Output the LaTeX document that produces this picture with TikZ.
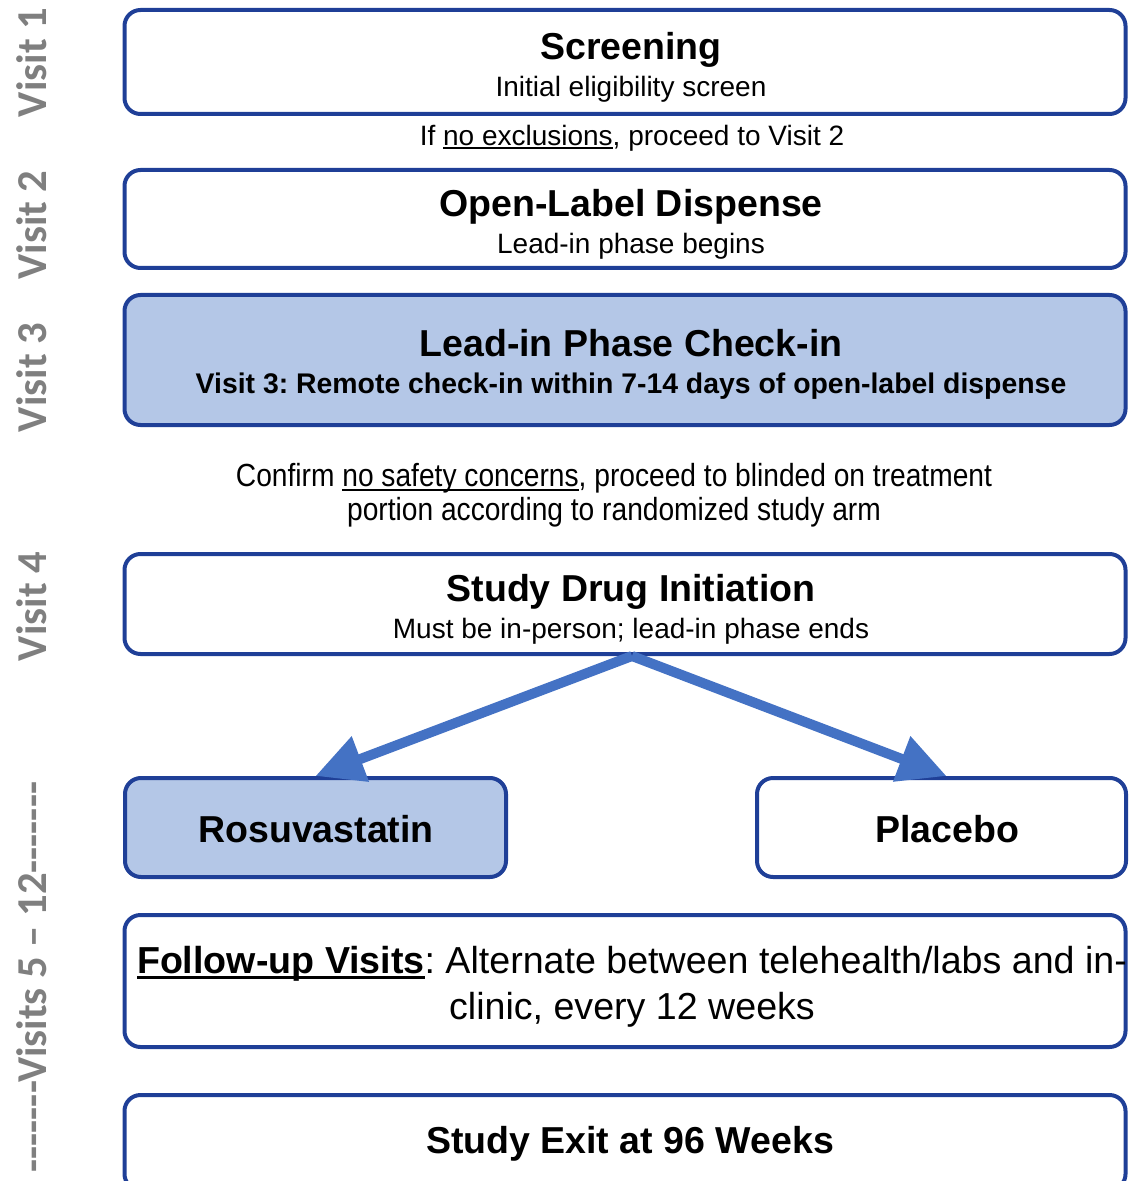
\documentclass[tikz,border=0pt]{standalone}
\usepackage{fontspec}
\setmainfont{Liberation Sans}
\newfontfamily\visitfont{Carlito}
\newfontfamily\narrowfont[FakeStretch=0.88]{Liberation Sans}
\usepackage{xcolor}
\usetikzlibrary{arrows.meta}
\frenchspacing

\definecolor{boxblue}{HTML}{1F3F97}
\definecolor{fillblue}{HTML}{B4C7E7}
\definecolor{arrowblue}{HTML}{4472C4}
\definecolor{visitgray}{HTML}{7F7F7F}

\tikzset{
  stage/.style={draw=boxblue, line width=2pt, rounded corners=8pt, minimum width=500.5pt},
  shaded/.style={fill=fillblue},
  stagetext/.style={align=center, inner sep=0pt, font=\fontsize{14}{18.5}\selectfont},
  visit/.style={rotate=90, text=visitgray, font=\visitfont\bfseries\fontsize{21.3}{25}\selectfont},
  note/.style={align=center, inner sep=0pt, font=\fontsize{14}{17}\selectfont},
  branch/.style={draw=arrowblue, line width=5pt, -{Triangle[length=24pt,width=23pt]}}
}
\newcommand{\stagetitle}[1]{{\fontsize{18.75}{18.5}\selectfont\bfseries #1}}
\newcommand{\undertext}[1]{\setbox0\hbox{#1}\rlap{\rule[-0.14em]{\wd0}{0.07em}}\box0}

\begin{document}
\begin{tikzpicture}[x=0.5pt, y=-0.5pt]
    \useasboundingbox (0,0) rectangle (1128,1181);
    \clip (0,0) rectangle (1128,1181);

    % draw visit labels on the left
    \node[visit] (visit1) at (32,62.5) {Visit 1};
    \node[visit] (visit2) at (32,225) {Visit 2};
    \node[visit] (visit3) at (32,377.5) {Visit 3};
    \node[visit] (visit4) at (32,606.5) {Visit 4};
    \node[visit] (visit512) at (32,977) {-------Visits 5 – 12-------};

    % screening and dispense
    \node[stage, minimum height=52pt] (screen) at (625,62) {};
    \node[stagetext] (screentext) at (631,67)
      {\stagetitle{Screening}\\Initial eligibility screen};
    \node[note] (excl) at (632,138) {If \undertext{no exclusions}, proceed to Visit 2};
    \node[stage, minimum height=49pt] (dispense) at (625,219) {};
    \node[stagetext] (dispensetext) at (631,224)
      {\stagetitle{Open-Label Dispense}\\Lead-in phase begins};

    % lead-in check-in
    \node[stage, shaded, minimum height=65pt] (checkin) at (625,360) {};
    \node[stagetext] (checkintext) at (631,364.5)
      {\stagetitle{Lead-in Phase Check-in}\\
       {\fontsize{14.2}{18}\selectfont\bfseries Visit 3: Remote check-in within 7-14 days of open-label dispense}};
    \node[note, font=\narrowfont\fontsize{16}{17}\selectfont] (confirm) at (614,495)
      {Confirm \undertext{no safety concerns}, proceed to blinded on treatment\\
       portion according to randomized study arm};

    % study drug initiation
    \node[stage, minimum height=50pt] (init) at (625,604) {};
    \node[stagetext] (inittext) at (631,609.5)
      {\stagetitle{Study Drug Initiation}\\Must be in-person; lead-in phase ends};

    % draw study arms
    \node[stage, shaded, minimum width=190.5pt, minimum height=49.5pt] (rosu) at (315.5,827.5) {};
    \node[stagetext] (rosutext) at (316,829.5) {\stagetitle{Rosuvastatin}};
    \node[stage, minimum width=184.5pt, minimum height=49.5pt] (placebo) at (941.5,827.5) {};
    \node[stagetext] (placebotext) at (947,829.5) {\stagetitle{Placebo}};
    \coordinate (split) at ([xshift=3.5pt]init.south);
    \coordinate (placebotop) at ([xshift=2.5pt]placebo.north);
    \draw[branch] (split) -- (rosu.north);
    \draw[branch] (split) -- (placebotop);

    % draw follow-up and exit
    \node[stage, minimum height=66pt] (follow) at (625,981) {};
    \node[stagetext, font=\fontsize{18.8}{23}\selectfont] (followtext) at (632,987)
      {\undertext{\textbf{Follow-up Visits}}: Alternate between telehealth/labs and in-\\
       clinic, every 12 weeks};
    \node[stage, minimum height=47.5pt] (exit) at (625,1142.5) {};
    \node[stagetext] (exittext) at (630,1143.5) {\stagetitle{Study Exit at 96 Weeks}};
\end{tikzpicture}
\end{document}
